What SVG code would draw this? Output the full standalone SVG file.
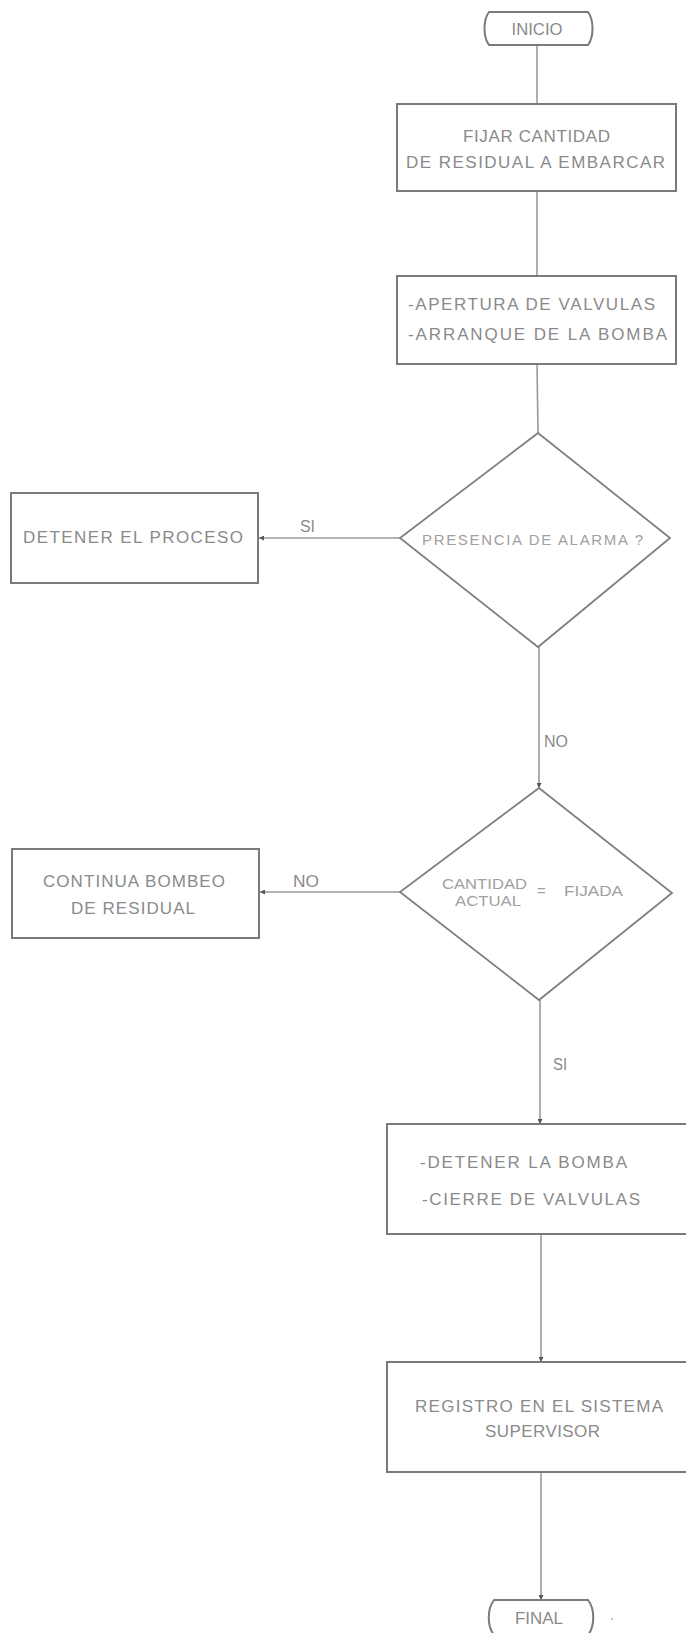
<svg xmlns="http://www.w3.org/2000/svg" width="686" height="1633" viewBox="0 0 686 1633">
<style>
  .box { fill: #ffffff; stroke: #7a7a7a; stroke-width: 2; }
  .dia { fill: #ffffff; stroke: #808080; stroke-width: 1.8; }
  .t { font-family: "Liberation Sans", Arial, sans-serif; fill: #8a8a8a; font-size: 17px; }
  .td { font-family: "Liberation Sans", Arial, sans-serif; fill: #a0a0a0; font-size: 15px; }
  .lbl { font-family: "Liberation Sans", Arial, sans-serif; fill: #8a8a8a; font-size: 16px; }
  .c { stroke: #9a9a9a; stroke-width: 1.6; fill: none; }
  .ca { stroke: #9a9a9a; stroke-width: 1.6; fill: none; marker-end: url(#arr); }
</style>
<defs>
  <marker id="arr" viewBox="0 0 10 10" refX="10" refY="5" markerWidth="5" markerHeight="5" markerUnits="userSpaceOnUse" orient="auto">
    <path d="M0,0 L10,5 L0,10 Z" fill="#555555"/>
  </marker>
</defs>
<rect x="0" y="0" width="686" height="1633" fill="#ffffff"/>

<g id="connectors">
  <line class="c" x1="537" y1="45" x2="537" y2="104"/>
  <line class="c" x1="537" y1="191" x2="537" y2="276"/>
  <line class="c" x1="537" y1="364" x2="538" y2="433"/>
  <line class="ca" x1="400" y1="538" x2="259" y2="538"/>
  <line class="ca" x1="539" y1="647" x2="539" y2="788"/>
  <line class="ca" x1="400" y1="892" x2="260" y2="892"/>
  <line class="ca" x1="540" y1="1000" x2="540" y2="1124"/>
  <line class="ca" x1="541" y1="1234" x2="541" y2="1362"/>
  <line class="ca" x1="541" y1="1472" x2="541" y2="1600"/>
  <text class="lbl" x="300" y="532" textLength="15" lengthAdjust="spacingAndGlyphs">SI</text>
  <text class="lbl" x="544" y="747" textLength="24" lengthAdjust="spacingAndGlyphs">NO</text>
  <text class="lbl" x="293" y="887" textLength="26" lengthAdjust="spacingAndGlyphs">NO</text>
  <text class="lbl" x="553" y="1070" textLength="14" lengthAdjust="spacingAndGlyphs">SI</text>
</g>

<g id="inicio">
  <path class="box" d="M489,12 L588,12 C594,20 594,37 588,45 L489,45 C483,37 483,20 489,12 Z"/>
  <text class="t" x="537" y="35" text-anchor="middle" font-size="16" textLength="51" lengthAdjust="spacingAndGlyphs">INICIO</text>
</g>

<g id="fijar">
  <rect class="box" x="397" y="104" width="279" height="87"/>
  <text class="t" x="463" y="142" textLength="147" lengthAdjust="spacing">FIJAR CANTIDAD</text>
  <text class="t" x="406" y="168" textLength="259" lengthAdjust="spacing">DE RESIDUAL A EMBARCAR</text>
</g>

<g id="apertura">
  <rect class="box" x="397" y="276" width="279" height="88"/>
  <text class="t" x="408" y="310" textLength="247" lengthAdjust="spacing">-APERTURA DE VALVULAS</text>
  <text class="t" x="408" y="340" textLength="259" lengthAdjust="spacing">-ARRANQUE DE LA BOMBA</text>
</g>

<g id="alarma">
  <path class="dia" d="M538,433 L670,538 L538,647 L400,538 Z"/>
  <text class="td" x="422" y="545" textLength="221" lengthAdjust="spacing">PRESENCIA DE ALARMA ?</text>
</g>

<g id="detener-proceso">
  <rect class="box" x="11" y="493" width="247" height="90"/>
  <text class="t" x="23" y="543" textLength="220" lengthAdjust="spacing">DETENER EL PROCESO</text>
</g>

<g id="cantidad">
  <path class="dia" d="M539,788 L672,893 L539,1000 L400,892 Z"/>
  <text class="td" x="442" y="889" font-size="14" textLength="85" lengthAdjust="spacingAndGlyphs">CANTIDAD</text>
  <text class="td" x="455" y="906" font-size="14" textLength="66" lengthAdjust="spacingAndGlyphs">ACTUAL</text>
  <text class="td" x="537" y="896" font-size="14">=</text>
  <text class="td" x="564" y="896" font-size="14" textLength="59" lengthAdjust="spacingAndGlyphs">FIJADA</text>
</g>

<g id="continua">
  <rect class="box" x="12" y="849" width="247" height="89"/>
  <text class="t" x="43" y="887" textLength="182" lengthAdjust="spacing">CONTINUA BOMBEO</text>
  <text class="t" x="71" y="914" textLength="124" lengthAdjust="spacing">DE RESIDUAL</text>
</g>

<g id="detener-bomba">
  <rect class="box" x="387" y="1124" width="310" height="110"/>
  <text class="t" x="420" y="1168" textLength="207" lengthAdjust="spacing">-DETENER LA BOMBA</text>
  <text class="t" x="422" y="1205" textLength="218" lengthAdjust="spacing">-CIERRE DE VALVULAS</text>
</g>

<g id="registro">
  <rect class="box" x="387" y="1362" width="310" height="110"/>
  <text class="t" x="415" y="1412" textLength="248" lengthAdjust="spacing">REGISTRO EN EL SISTEMA</text>
  <text class="t" x="485" y="1437" textLength="115" lengthAdjust="spacing">SUPERVISOR</text>
</g>

<g id="final">
  <path class="box" d="M494,1600 L588,1600 C595,1609 595,1626 588,1635 L494,1635 C487,1626 487,1609 494,1600 Z"/>
  <text class="t" x="515" y="1624" font-size="16" textLength="48" lengthAdjust="spacingAndGlyphs">FINAL</text>
  <circle cx="612" cy="1619" r="1" fill="#b0b0b0"/>
</g>
</svg>
